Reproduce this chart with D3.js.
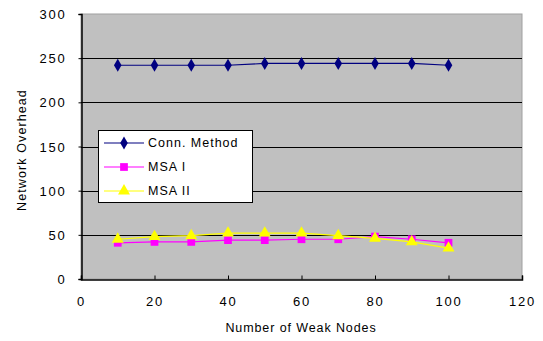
<!DOCTYPE html>
<html>
<head>
<meta charset="utf-8">
<script src="https://cdn.jsdelivr.net/npm/d3@7"></script>
<style>
  html, body { margin: 0; padding: 0; background: #fff; }
  svg text { font-family: "Liberation Sans", Arial, sans-serif; fill: #000; }
</style>
</head>
<body>
<svg id="chart" width="543" height="341"></svg>
<script>
// Number of weak nodes on the x axis
const weakNodes = [10, 20, 30, 40, 50, 60, 70, 80, 90, 100];
// Network overhead per method
const connMethod = [242, 242, 242, 242, 244, 244, 244, 244, 244, 242];
const msaI = [41, 42, 42, 44, 44, 45, 45, 48, 45, 41];
const msaII = [45, 48, 49, 52, 52, 52, 49, 46, 42, 35];
const seriesNames = ["Conn. Method", "MSA I", "MSA II"];
const xTicks = [0, 20, 40, 60, 80, 100, 120];
const yTicks = [0, 50, 100, 150, 200, 250, 300];

const svg = d3.select("#chart");
const plot = { left: 81, right: 522, top: 14, bottom: 279 };

const x = d3.scaleLinear().domain([0, 120]).range([plot.left, plot.right]);
const y = d3.scaleLinear().domain([0, 300]).range([plot.bottom, plot.top]);

// Plot area background
svg.append("rect")
  .attr("x", plot.left).attr("y", plot.top)
  .attr("width", plot.right - plot.left).attr("height", plot.bottom - plot.top)
  .attr("fill", "#c0c0c0")
  .attr("stroke", "#a0a0a0").attr("stroke-width", 1);

// Horizontal gridlines
svg.append("g").selectAll("line")
  .data(yTicks.filter(d => d > 0 && d < 300))
  .join("line")
  .attr("x1", plot.left).attr("x2", plot.right)
  .attr("y1", d => Math.round(y(d)) + 0.5).attr("y2", d => Math.round(y(d)) + 0.5)
  .attr("stroke", "#000").attr("stroke-width", 1);

// Axes
const yAxis = d3.axisLeft(y).tickValues(yTicks).tickSize(3).tickPadding(12);
const xAxis = d3.axisBottom(x).tickValues(xTicks).tickSize(-4).tickPadding(17);

const gy = svg.append("g").attr("transform", `translate(${plot.left + 0.5},0)`).call(yAxis);
const gx = svg.append("g").attr("transform", `translate(0,${plot.bottom + 0.5})`).call(xAxis);
[gx, gy].forEach(g => {
  g.select(".domain").attr("stroke", "#000").attr("stroke-width", 1.5);
  g.selectAll(".tick line").attr("stroke", "#000");
  g.selectAll("text")
    .style("font-family", "'Liberation Sans', Arial, sans-serif")
    .style("font-size", "13px")
    .style("letter-spacing", "1.8px");
});
gy.selectAll(".tick text").attr("dy", "0.35em");

// Axis titles
svg.append("text")
  .attr("x", 301).attr("y", 332)
  .attr("text-anchor", "middle")
  .style("font-size", "12.5px").style("letter-spacing", "0.9px")
  .text("Number of Weak Nodes");
svg.append("text")
  .attr("transform", "translate(26,150) rotate(-90)")
  .attr("text-anchor", "middle")
  .style("font-size", "12.5px").style("letter-spacing", "1.1px")
  .text("Network Overhead");

// Series
const series = [
  { name: seriesNames[0], values: connMethod, color: "#000080", marker: d3.symbolDiamond, size: 50 },
  { name: seriesNames[1], values: msaI, color: "#ff00ff", marker: d3.symbolSquare, size: 60 },
  { name: seriesNames[2], values: msaII, color: "#ffff00", marker: d3.symbolTriangle, size: 62 }
];

const line = d3.line().x((d, i) => x(weakNodes[i])).y(d => y(d));

series.forEach(s => {
  svg.append("path")
    .datum(s.values)
    .attr("d", line)
    .attr("fill", "none")
    .attr("stroke", s.color)
    .attr("stroke-width", 1.2);
  svg.append("g").selectAll("path")
    .data(s.values)
    .join("path")
    .attr("d", d3.symbol().type(s.marker).size(s.size))
    .attr("transform", (d, i) => `translate(${x(weakNodes[i])},${y(d)})`)
    .attr("fill", s.color);
});

// Legend
const legend = svg.append("g");
legend.append("rect")
  .attr("x", 98.5).attr("y", 130.5).attr("width", 154).attr("height", 72)
  .attr("fill", "#fff").attr("stroke", "#000").attr("stroke-width", 1);
series.forEach((s, i) => {
  const ly = 143 + i * 24;
  legend.append("line")
    .attr("x1", 104).attr("x2", 144).attr("y1", ly).attr("y2", ly)
    .attr("stroke", s.color).attr("stroke-width", 1.2);
  legend.append("path")
    .attr("d", d3.symbol().type(s.marker).size(s.size)())
    .attr("transform", `translate(124,${ly})`)
    .attr("fill", s.color);
  legend.append("text")
    .attr("x", 148).attr("y", ly).attr("dy", "0.35em")
    .style("font-size", "12.5px").style("letter-spacing", "1px")
    .text(s.name);
});
</script>
</body>
</html>
